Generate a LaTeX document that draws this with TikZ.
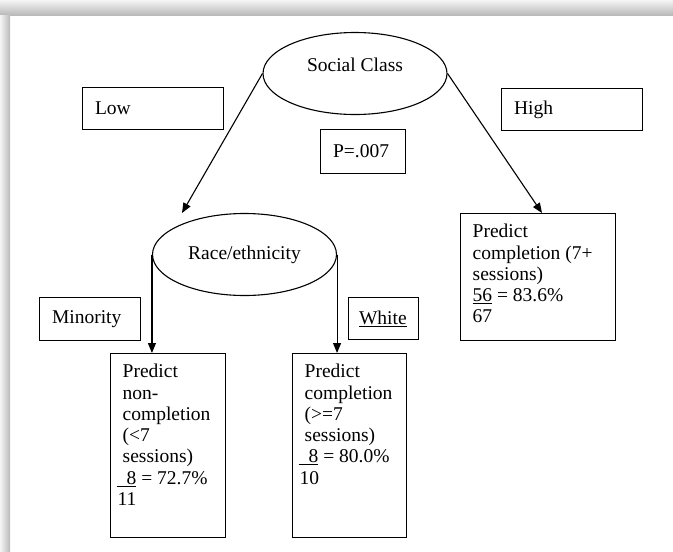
\documentclass[tikz,border=0pt]{standalone}
\usepackage{fontspec}
\setmainfont{Liberation Serif}
\usetikzlibrary{shapes.geometric,arrows.meta}

\tikzset{
  every node/.style={font=\fontsize{19.5}{21.3}\selectfont},
  splitnode/.style={ellipse,draw,line width=1.1pt,minimum width=184pt,minimum height=82pt,inner sep=0pt},
  branchbox/.style={draw,line width=1.1pt,anchor=north west,align=left,inner xsep=12.5pt,inner ysep=0pt},
  leafbox/.style={draw,line width=1.1pt,anchor=north west,inner sep=0pt},
  leaftext/.style={anchor=north west,align=left,inner sep=0pt,xshift=12.5pt,yshift=-11pt},
  link/.style={line width=1.1pt,-{Triangle[length=10pt,width=8pt]}}
}

\begin{document}
\begin{tikzpicture}[x=1pt,y=-1pt]
  \useasboundingbox (0,0) rectangle (673,552);
  \shade[top color=gray!8,bottom color=gray!55] (0,0) rectangle (673,15);
  \shade[left color=gray!8,right color=gray!55] (0,15) rectangle (10,552);

  \coordinate (racetip) at (182,213);
  \coordinate (hightip) at (542,213);

  \node[splitnode,label={[yshift=8.5pt]center:Social Class}] (social) at (355,73.5) {};
  \node[splitnode] (race) at (244.5,254.5) {Race/ethnicity};

  \node[branchbox,text width=116pt,minimum height=42pt] (low) at (82,87) {Low};
  \node[branchbox,text width=116pt,minimum height=42pt] (high) at (501,88) {High};
  \node[branchbox,text width=60pt,minimum height=44pt] (pval) at (320,129) {P=.007};
  \node[branchbox,text width=76pt,minimum height=43pt] (minority) at (39,297) {Minority};
  \node[branchbox,inner xsep=10.5pt,text width=49pt,minimum height=42pt] (white) at (348,297) {\underline{White}};

  \node[leafbox,minimum width=115pt,minimum height=184pt,
    label={[leaftext]north west:{Predict\\non-\\completion\\(<7\\sessions)\\\hspace*{-6pt}\underline{\hspace{10pt}8} = 72.7\%\\\hspace*{-5pt}11}}] (minpred) at (110,353) {};
  \node[leafbox,minimum width=114pt,minimum height=184pt,
    label={[leaftext]north west:{Predict\\completion\\(>=7\\sessions)\\\hspace*{-6pt}\underline{\hspace{10pt}8} = 80.0\%\\\hspace*{-5pt}10}}] (whitepred) at (292,353) {};
  \node[leafbox,minimum width=155pt,minimum height=127pt,
    label={[leaftext]north west:{Predict\\completion (7+\\sessions)\\\underline{56} = 83.6\%\\67}}] (highpred) at (460,213) {};

  \draw[link] (social.west) -- (racetip);
  \draw[link] (social.east) -- (hightip);
  \draw[link] (race.west) -- (race.west |- minpred.north);
  \draw[link] (race.east) -- (race.east |- whitepred.north);
\end{tikzpicture}
\end{document}
